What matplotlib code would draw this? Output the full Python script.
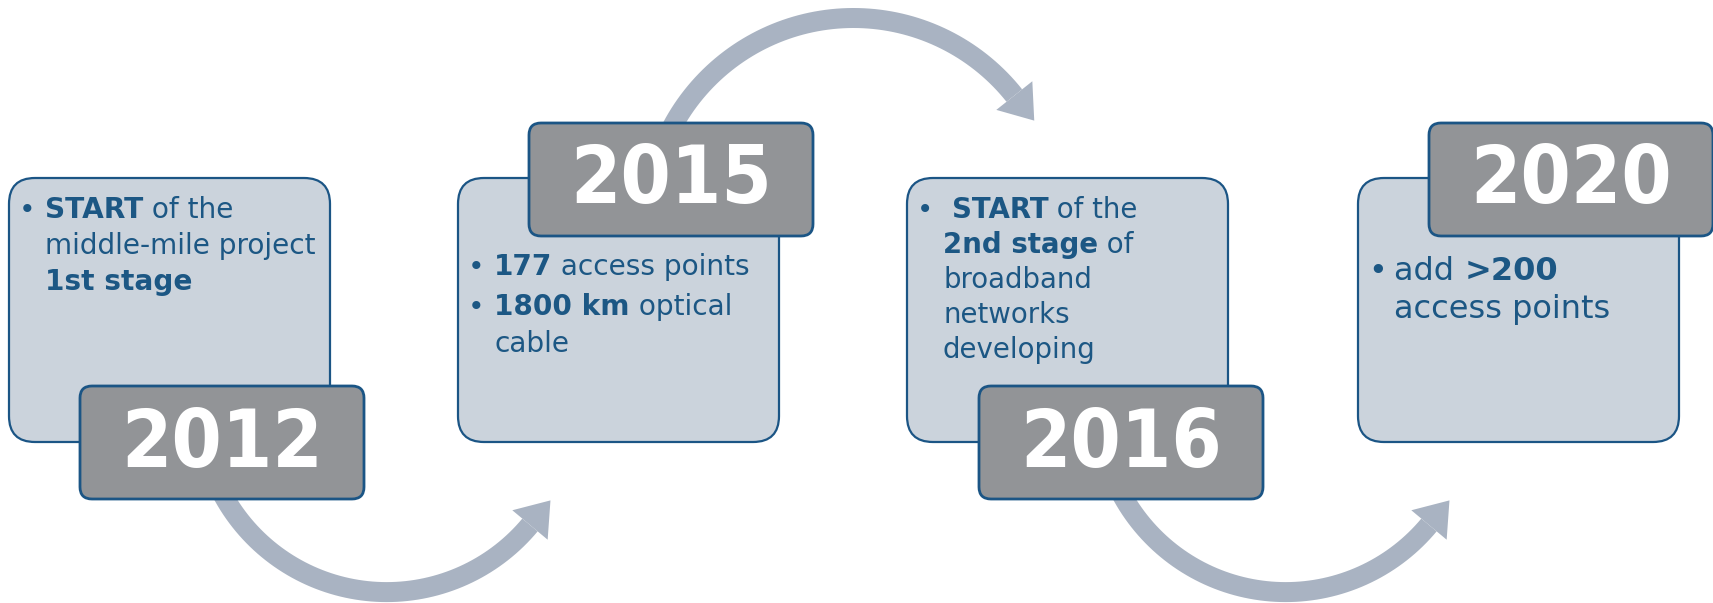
import numpy as np
import matplotlib
matplotlib.use("Agg")
import matplotlib.pyplot as plt
from matplotlib.patches import FancyBboxPatch, Polygon

# Inhalt der Zeitleiste
years = ['2012', '2015', '2016', '2020']
notes_2012 = [["**START** of the", "middle-mile project", "**1st stage**"]]
notes_2015 = [["**177** access points"], ["**1800 km** optical", "cable"]]
notes_2016 = [[" **START** of the", "**2nd stage** of", "broadband", "networks", "developing"]]
notes_2020 = [["add **>200**", "access points"]]
notes = [notes_2012, notes_2015, notes_2016, notes_2020]

# Layout (Pixel)
W, H = 1713, 603
box_left = [9, 458, 907, 1358]
box_top, box_w, box_h = 178, 321, 264
year_left = [80, 529, 979, 1429]
year_top = [386, 123, 386, 123]
year_w, year_h = 284, 113
first_base = [218, 275, 218, 280]
line_gap = [36, 37, 35, 38]
para_gap = [40, 40, 40, 40]
font_px = [28, 28, 27.6, 32]

LIGHT = '#cbd3dc'
EDGE = '#1b5585'
GREY = '#929497'
TEXT = '#1c5784'
ARROW = '#a9b3c2'

fig = plt.figure(figsize=(W / 100, H / 100), dpi=100)
ax = fig.add_axes([0, 0, 1, 1])
ax.set_xlim(0, W)
ax.set_ylim(H, 0)
ax.axis('off')
renderer = fig.canvas.get_renderer()


def curved_arrow(cx, cy, r, a0, a1, width=20, head_half=23, head_len=32):
    """Bogenpfeil als Polygon (Winkel in Grad, Bildkoordinaten)"""
    t = np.radians(np.linspace(a0, a1, 80))
    outer = np.c_[cx + (r + width / 2) * np.cos(t), cy + (r + width / 2) * np.sin(t)]
    inner = np.c_[cx + (r - width / 2) * np.cos(t), cy + (r - width / 2) * np.sin(t)]
    ax.add_patch(Polygon(np.vstack([outer, inner[::-1]]), closed=True,
                         facecolor=ARROW, edgecolor='none', zorder=1))
    te = t[-1]
    radial = np.array([np.cos(te), np.sin(te)])
    sgn = 1 if a1 > a0 else -1
    tangent = sgn * np.array([-np.sin(te), np.cos(te)])
    mid = np.array([cx, cy]) + r * radial
    head = [mid + head_half * radial, mid + head_len * tangent, mid - head_half * radial]
    ax.add_patch(Polygon(head, closed=True, facecolor=ARROW, edgecolor='none', zorder=1))


def advance(s, size, weight):
    t1 = ax.text(0, 0, s + '|', fontsize=size, fontweight=weight)
    t2 = ax.text(0, 0, '|', fontsize=size, fontweight=weight)
    w = t1.get_window_extent(renderer).width - t2.get_window_extent(renderer).width
    t1.remove()
    t2.remove()
    return w


def draw_line(x, y, line, size):
    parts = line.split('**')
    for i, part in enumerate(parts):
        if not part:
            continue
        weight = 'bold' if i % 2 else 'normal'
        ax.text(x, y, part, fontsize=size, fontweight=weight, color=TEXT,
                va='baseline', ha='left', zorder=5)
        x += advance(part, size, weight)


# Pfeile
curved_arrow(386.7, 405.6, 186.5, 160, 39.8)
curved_arrow(386.7 + 899, 405.6, 186.5, 160, 39.8)
curved_arrow(853.5, 223.5, 205.5, -155, -38.5)

for k in range(4):
    ax.add_patch(FancyBboxPatch((box_left[k], box_top), box_w, box_h,
                                boxstyle='round,pad=0,rounding_size=26',
                                facecolor=LIGHT, edgecolor=EDGE, linewidth=1.6, zorder=2))
    ax.add_patch(FancyBboxPatch((year_left[k], year_top[k]), year_w, year_h,
                                boxstyle='round,pad=0,rounding_size=12',
                                facecolor=GREY, edgecolor=EDGE, linewidth=2.0, zorder=3))
    ax.text(year_left[k] + year_w / 2, year_top[k] + year_h / 2 + 2, years[k],
            fontsize=58, fontweight='bold', fontstretch='condensed', color='white',
            ha='center', va='center', zorder=4)

    size = font_px[k] * 0.72
    y = first_base[k]
    for p, para in enumerate(notes[k]):
        if p > 0:
            y += para_gap[k]
        ax.text(box_left[k] + 10, y, '\u2022', fontsize=size, color=TEXT,
                va='baseline', ha='left', zorder=5)
        for j, line in enumerate(para):
            if j > 0:
                y += line_gap[k]
            draw_line(box_left[k] + 36, y, line, size)

fig.savefig('out.png', dpi=100)
